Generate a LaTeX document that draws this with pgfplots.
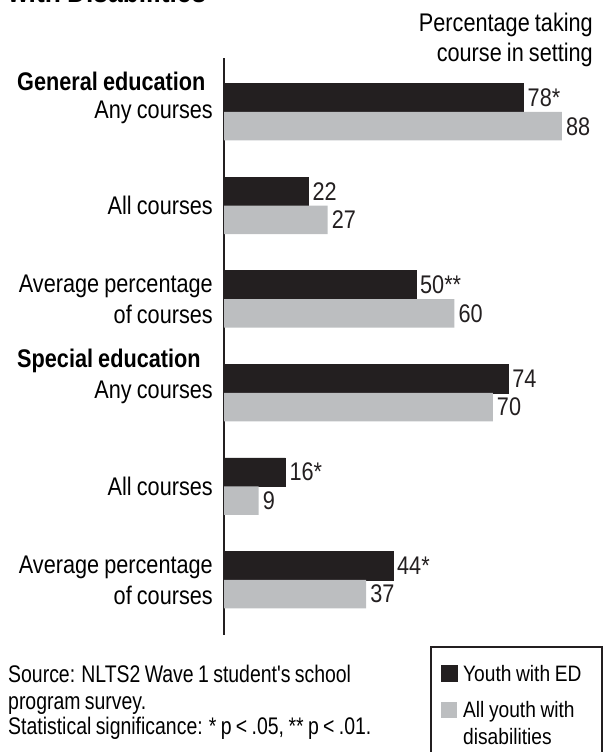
\documentclass[border=0pt]{standalone}
\usepackage{fontspec}
\setmainfont{Liberation Sans}[FakeStretch=0.85, WordSpace=0.85]
\newfontfamily\srcfont{Liberation Sans}[FakeStretch=0.81, WordSpace=0.81]
\newfontfamily\legfont{Liberation Sans}[FakeStretch=0.86, WordSpace=0.86]
\usepackage{pgfplots}
\pgfplotsset{compat=1.18}
\definecolor{edblack}{HTML}{231F20}
\definecolor{allgray}{HTML}{BCBEC0}
\newcommand{\lab}{\fontsize{25.5}{31}\selectfont}

\begin{document}
\begin{tikzpicture}[x=1pt,y=1pt]
\useasboundingbox (0,0) rectangle (604,752);
\begin{axis}[
  at={(224pt,117pt)}, anchor=south west,
  scale only axis, width=364.8pt, height=577pt,
  xmin=0, xmax=95, ymin=-0.588, ymax=5.577,
  xbar, bar width=28.5pt, clip=false,
  axis x line=none, axis y line=left,
  axis line style={-, line width=2pt, edblack},
  ytick={0,1,2,3,4,5},
  yticklabels={{Average percentage\\of courses},All courses,Any courses,
               {Average percentage\\of courses},All courses,Any courses},
  major tick length=0pt,
  yticklabel style={align=right, inner sep=0pt, xshift=-11pt, font=\lab},
  point meta=explicit symbolic,
  nodes near coords={\pgfplotspointmeta},
  every node near coord/.append style={anchor=west, inner sep=0pt, xshift=4pt, font=\lab, text=edblack},
  legend style={at={(0.5674,-0.0347)}, anchor=north west, draw=none, fill=none,
    inner xsep=10pt, inner ysep=10pt, row sep=18.7pt, column sep=6pt,
    font=\legfont\fontsize{22.3}{27}\selectfont, cells={anchor=base west},
    nodes={inner sep=0pt}},
  legend image code/.code={\fill[#1, line width=0pt] (0pt,0pt) rectangle (16pt,16pt);},
]
% Youth with ED
\addplot[fill=edblack, draw=edblack, bar shift=14.25pt] coordinates {
  (78,5) [78*] (22,4) [22] (50,3) [50**] (74,2) [74] (16,1) [16*] (44,0) [44*]
};
% All youth with disabilities
\addplot[fill=allgray, draw=none, bar shift=-14.25pt] coordinates {
  (88,5) [88] (27,4) [27] (60,3) [60] (70,2) [70] (9,1) [9] (37,0) [37]
};
\legend{\parbox[t]{129pt}{Youth with ED},
  \parbox[t]{129pt}{All youth with\\disabilities}}
\end{axis}
% legend frame, running off the bottom edge as in the original
\draw[edblack, line width=2pt] (431,105) rectangle (602,-20);

\node[anchor=base west, inner sep=0pt, font=\bfseries\fontsize{31}{36}\selectfont] at (8,749) {with Disabilities};
\node[anchor=base east, inner sep=0pt, font=\lab] at (593,720) {Percentage taking};
\node[anchor=base east, inner sep=0pt, font=\lab] at (593,690) {course in setting};
\node[anchor=base west, inner sep=0pt, font=\bfseries\lab] at (17,661) {General education};
\node[anchor=base west, inner sep=0pt, font=\bfseries\lab] at (17,384) {Special education};
\node[anchor=base west, inner sep=0pt, font=\srcfont\fontsize{24}{26}\selectfont] at (8,69) {Source: NLTS2 Wave 1 student's school};
\node[anchor=base west, inner sep=0pt, font=\srcfont\fontsize{24}{26}\selectfont] at (8,42.5) {program survey.};
\node[anchor=base west, inner sep=0pt, font=\srcfont\fontsize{24}{26}\selectfont] at (8,17.5) {Statistical significance: * p < .05, ** p < .01.};
\end{tikzpicture}
\end{document}
